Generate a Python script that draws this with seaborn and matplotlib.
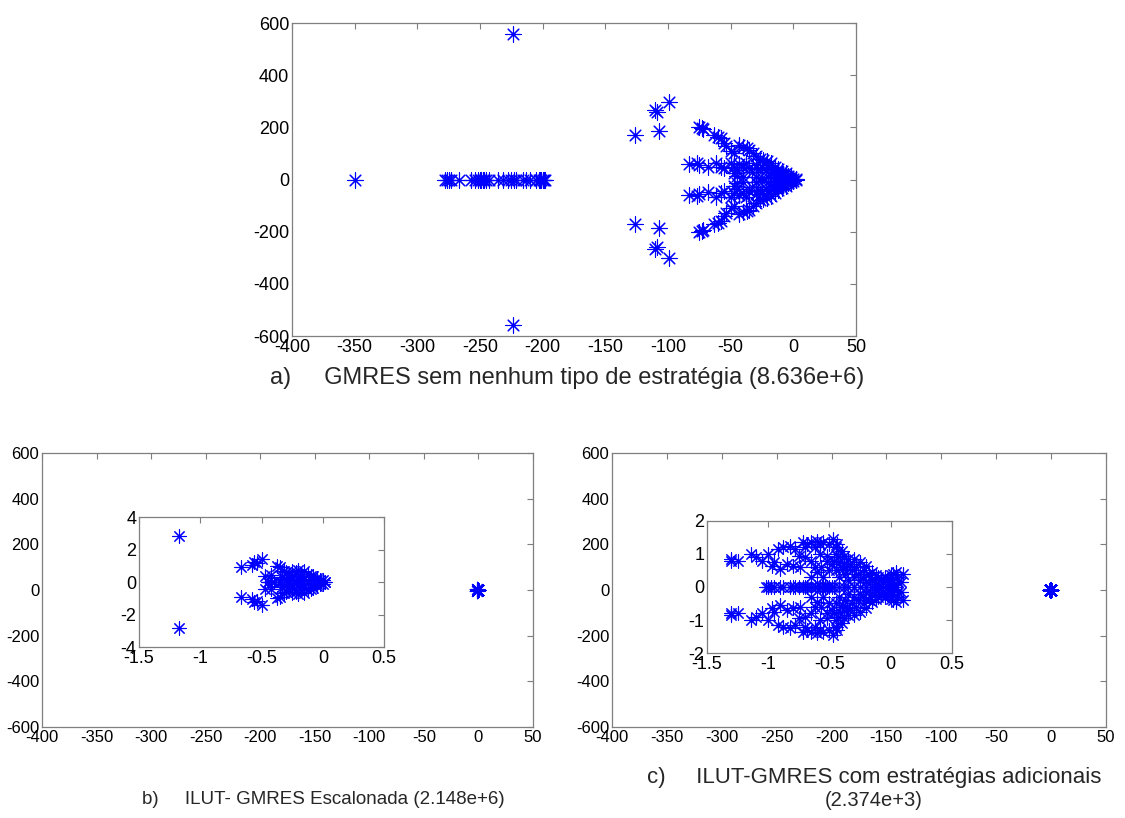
import numpy as np
import pandas as pd
import matplotlib
matplotlib.use("Agg")
import matplotlib.pyplot as plt
import seaborn as sns

sns.set_style("white")
plt.rcParams['font.family'] = ['Liberation Sans', 'DejaVu Sans']

# ---- a) GMRES sem estratégia: autovalores (parte superior; conjugados espelhados)
a_real_axis = [-350, -278, -276, -275, -273, -267, -257, -254, -252, -250, -249, -248,
               -247, -245, -243, -236, -232, -228, -225, -223, -221, -216, -213, -210,
               -205, -203, -202, -201, -200, -199, -198]
a_up_x = [-224, -126, -110, -109, -107, -99,
          -75, -73, -72, -63, -60, -58, -55, -54, -50, -47, -43, -40, -37, -35, -32, -30,
          -27, -24, -21, -18, -15, -12, -9, -6, -4, -2, 0, 2,
          -83, -77, -75, -68, -62, -58, -55, -50, -47, -45, -43, -40, -38, -35, -33, -30,
          -28, -25, -22, -20, -18, -16, -14, -12, -10, -8, -6, -4,
          -47, -45, -40, -30, -25, -20, -15, -10, -5, -3]
a_up_y = [557, 172, 268, 258, 185, 299,
          200, 197, 193, 172, 165, 160, 140, 130, 110, 100, 132, 125, 122, 115, 100, 90,
          80, 75, 72, 62, 50, 40, 32, 24, 15, 8, 4, 2,
          60, 63, 55, 48, 65, 50, 45, 65, 50, 35, 60, 50, 65, 45, 30, 55,
          40, 50, 35, 45, 30, 38, 25, 30, 20, 22, 14, 10,
          25, 15, 10, 10, 5, 8, 5, 5, 3, 1]

# ---- b) ILUT-GMRES escalonada
b_up_x = [-1.17, -0.67, -0.58, -0.56, -0.54, -0.50, -0.47, -0.42, -0.37, -0.35, -0.32,
          -0.30, -0.28, -0.25, -0.22, -0.20, -0.18, -0.15, -0.12, -0.10, -0.08, -0.05,
          -0.02, 0.00, 0.02, -0.30, -0.25, -0.20, -0.15, -0.10, -0.05, -0.45, -0.40,
          -0.35, -0.33, -0.27, -0.22, -0.17, -0.12]
b_up_y = [2.85, 0.92, 1.05, 1.25, 1.15, 1.40, 0.40, 0.45, 1.00, 0.90, 0.70,
          0.60, 0.45, 0.70, 0.60, 0.75, 0.50, 0.65, 0.50, 0.40, 0.35, 0.25,
          0.15, 0.10, 0.00, 0.20, 0.30, 0.20, 0.30, 0.20, 0.10, 0.00, 0.00,
          0.00, 0.30, 0.10, 0.10, 0.10, 0.05]

# ---- c) ILUT-GMRES com estratégias adicionais
c_up_x = [-1.30, -1.30, -1.25, -1.14, -1.10, -1.00, -1.05, -0.97, -0.95, -0.92, -0.88,
          -0.85, -0.82, -0.80, -0.78, -0.74, -0.72, -0.70, -0.68, -0.65, -0.65, -0.62,
          -0.60, -0.58, -0.57, -0.55, -0.52, -0.50, -0.47, -0.45, -0.45, -0.43, -0.40,
          -0.38, -0.35, -0.33, -0.30, -0.28, -0.25, -0.22, -0.20, -0.18, -0.15, -0.12,
          -0.10, -0.08, -0.05, -0.03, 0.00, 0.02, 0.05, 0.08, 0.10, 0.00, 0.03,
          -0.45, -0.42, -0.40, -0.37, -0.35, -0.30, -0.25, -0.20, -0.15, -0.10,
          -0.50, -0.55, -0.60, -0.65, -0.48, -0.52,
          -0.46, -0.44, -0.41, -0.39, -0.36, -0.32, -0.27, -0.23, -0.17, -0.13,
          -0.06, -0.02, 0.01, 0.04, 0.06, -0.58, -0.62, -0.70, -0.75, -0.90]
c_up_y = [0.85, 0.80, 0.78, 1.00, 0.90, 1.00, 0.80, 0.65, 0.75, 1.15, 1.20,
          0.70, 1.25, 0.65, 1.15, 0.60, 1.35, 0.90, 1.30, 1.35, 0.80, 1.20,
          1.40, 1.00, 0.60, 1.35, 0.80, 1.30, 1.45, 1.20, 1.00, 0.90, 1.10,
          0.95, 0.85, 0.70, 0.85, 0.60, 0.75, 0.50, 0.65, 0.40, 0.45, 0.35,
          0.30, 0.25, 0.30, 0.20, 0.35, 0.40, 0.30, 0.15, 0.40, 0.10, 0.05,
          0.50, 0.30, 0.60, 0.40, 0.20, 0.30, 0.20, 0.15, 0.20, 0.10,
          0.50, 0.30, 0.45, 0.30, 0.70, 0.95,
          0.80, 1.30, 0.75, 0.55, 0.65, 0.50, 0.40, 0.30, 0.30, 0.20,
          0.15, 0.25, 0.20, 0.45, 0.15, 1.30, 0.60, 1.20, 0.95, 0.55]
c_real_axis = [-1.02, -1.00, -0.98, -0.95, -0.90, -0.88, -0.82, -0.80, -0.78, -0.75,
               -0.72, -0.70, -0.68, -0.65, -0.62, -0.60, -0.58, -0.56, -0.54, -0.52,
               -0.50, -0.48, -0.46, -0.42, -0.38, -0.35, -0.30, -0.25, -0.20, -0.15,
               -0.10, -0.05, 0.00, 0.02]

captions = ["a)     GMRES sem nenhum tipo de estratégia (8.636e+6)",
            "b)     ILUT- GMRES Escalonada (2.148e+6)",
            "c)     ILUT-GMRES com estratégias adicionais",
            "(2.374e+3)"]


def espectro(up_x, up_y, real_axis):
    # autovalores complexos vêm em pares conjugados
    re = list(up_x) + list(up_x) + list(real_axis)
    im = list(up_y) + [-v for v in up_y] + [0.0] * len(real_axis)
    return pd.DataFrame({"re": re, "im": im})


df_a = espectro(a_up_x, a_up_y, a_real_axis)
df_b = espectro(b_up_x, b_up_y, [])
df_c = espectro(c_up_x, c_up_y, c_real_axis)

STAR = (8, 2, 0)
BLUE = "#0000ff"


def estilo(ax, fs):
    for s in ax.spines.values():
        s.set_color("#7f7f7f")
        s.set_linewidth(0.9)
    ax.tick_params(direction="in", top=True, right=True, length=4, width=0.8,
                   color="#7f7f7f", labelsize=fs, labelcolor="black", pad=2)
    ax.set_xlabel("")
    ax.set_ylabel("")


def desenha(ax, df, s, fs, xlim, ylim, xt, yt, xtl, ytl):
    sns.scatterplot(data=df, x="re", y="im", marker=STAR, s=s, color=BLUE,
                    linewidth=0.8, ax=ax, legend=False)
    ax.set_xlim(xlim)
    ax.set_ylim(ylim)
    ax.set_xticks(xt)
    ax.set_yticks(yt)
    ax.set_xticklabels(xtl)
    ax.set_yticklabels(ytl)
    estilo(ax, fs)


fig = plt.figure(figsize=(11.25, 8.18), dpi=100)

main_xt = [-400, -350, -300, -250, -200, -150, -100, -50, 0, 50]
main_yt = [-600, -400, -200, 0, 200, 400, 600]
main_xtl = [str(v) for v in main_xt]
main_ytl = [str(v) for v in main_yt]

ax_a = fig.add_axes([0.2596, 0.5892, 0.5013, 0.3826])
desenha(ax_a, df_a, 120, 13, (-400, 50), (-600, 600), main_xt, main_yt, main_xtl, main_ytl)

ax_b = fig.add_axes([0.0373, 0.1112, 0.4364, 0.335])
desenha(ax_b, df_b, 110, 12, (-400, 50), (-600, 600), main_xt, main_yt, main_xtl, main_ytl)

ax_c = fig.add_axes([0.544, 0.1112, 0.439, 0.335])
desenha(ax_c, df_c, 110, 12, (-400, 50), (-600, 600), main_xt, main_yt, main_xtl, main_ytl)

in_xt = [-1.5, -1, -0.5, 0, 0.5]
in_xtl = ["-1.5", "-1", "-0.5", "0", "0.5"]

ax_bi = fig.add_axes([0.1236, 0.2090, 0.2178, 0.1589])
desenha(ax_bi, df_b, 90, 13, (-1.5, 0.5), (-4, 4), in_xt, [-4, -2, 0, 2, 4],
        in_xtl, ["-4", "-2", "0", "2", "4"])

ax_ci = fig.add_axes([0.6284, 0.2017, 0.2178, 0.1614])
desenha(ax_ci, df_c, 90, 13, (-1.5, 0.5), (-2, 2), in_xt, [-2, -1, 0, 1, 2],
        in_xtl, ["-2", "-1", "0", "1", "2"])

fig.text(0.504, 1 - 378 / 818, captions[0], ha="center", va="center", fontsize=17)
fig.text(0.287, 1 - 799 / 818, captions[1], ha="center", va="center", fontsize=13.5)
fig.text(0.777, 1 - 777 / 818, captions[2], ha="center", va="center", fontsize=16)
fig.text(0.777, 1 - 800 / 818, captions[3], ha="center", va="center", fontsize=14.5)

fig.savefig("out.png", dpi=100)
